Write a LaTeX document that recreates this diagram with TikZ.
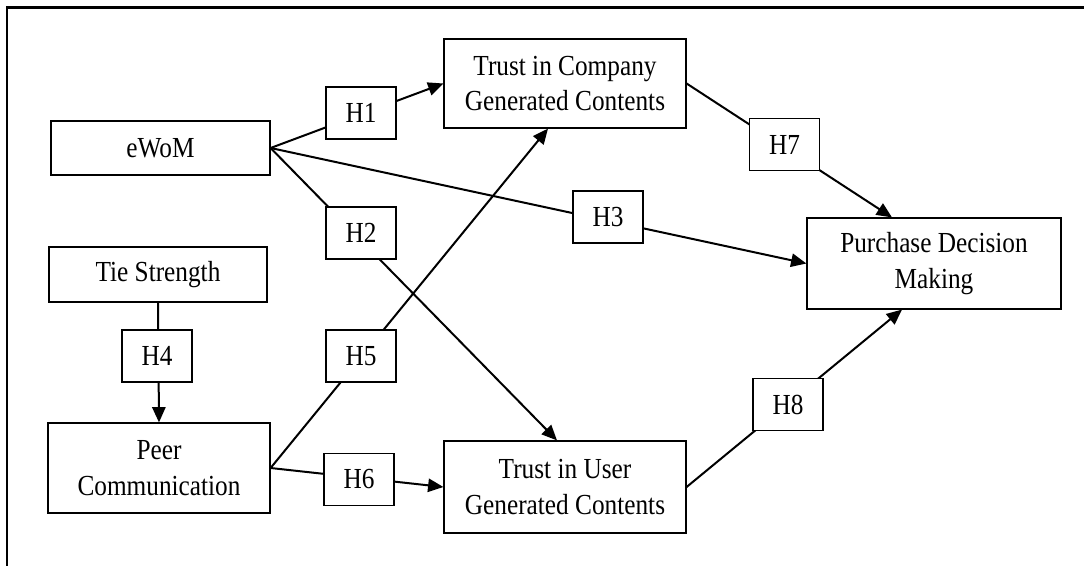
\documentclass[tikz,border=0pt]{standalone}
\usepackage{fontspec}
\setmainfont{Liberation Serif}[FakeStretch=0.87]
\usetikzlibrary{arrows.meta}
\begin{document}
\begin{tikzpicture}[x=0.75pt,y=-0.75pt,
  box/.style={draw, line width=0.9pt, fill=white, align=center, inner sep=0pt,
              font=\fontsize{21.8}{26.5}\selectfont},
  hyp/.style={box, minimum width=52.5pt, minimum height=39pt},
  conn/.style={line width=1.5pt},
  arr/.style={conn, -{Triangle[length=11.5pt,width=10pt]}}]

\useasboundingbox (0,0) rectangle (1084,566);

% open frame along the top and left
\draw[line width=1.7pt] (7,566) -- (7,7.5) -- (1084,7.5);

% constructs
\node[box, minimum width=164.25pt, minimum height=40.5pt] (ewom) at (160.5,148) {eWoM};
\node[box, minimum width=163.5pt, minimum height=41.25pt] (tie) at (158,274.5) {Tie Strength};
\node[box, minimum width=166.5pt, minimum height=67.5pt] (peer) at (159,468) {Peer\\Communication};
\node[box, minimum width=181.5pt, minimum height=66.75pt] (tc) at (565,83.5) {Trust in Company\\Generated Contents};
\node[box, minimum width=181.5pt, minimum height=69pt] (tu) at (565,487) {Trust in User\\Generated Contents};
\node[box, minimum width=190.5pt, minimum height=68.25pt] (pdm) at (934,263.5) {Purchase Decision\\Making};

% hypothesised paths
\draw[arr] (ewom.east) -- (tc.west);
\draw[arr] (ewom.east) -- ([xshift=-6pt]tu.north);
\draw[arr] (ewom.east) -- (pdm.west);
\draw[arr] (tie.south) -- (peer.north);
\draw[arr] (peer.east) -- ([xshift=-12.75pt]tc.south);
\draw[arr] (peer.east) -- (tu.west);
\draw[arr] (tc.east) -- ([xshift=-31.5pt]pdm.north);
\draw[arr] (tu.east) -- ([xshift=-24pt]pdm.south);

% hypothesis labels sitting on the paths
\node[hyp] (h1) at (361,113) {H1};
\node[hyp] (h2) at (361,233) {H2};
\node[hyp] (h3) at (608,217) {H3};
\node[hyp] (h4) at (157,356) {H4};
\node[hyp] (h5) at (361,356) {H5};
\node[hyp] (h6) at (359,479.5) {H6};
\node[hyp] (h7) at (784.5,144.5) {H7};
\node[hyp] (h8) at (788,404.5) {H8};
\end{tikzpicture}
\end{document}
